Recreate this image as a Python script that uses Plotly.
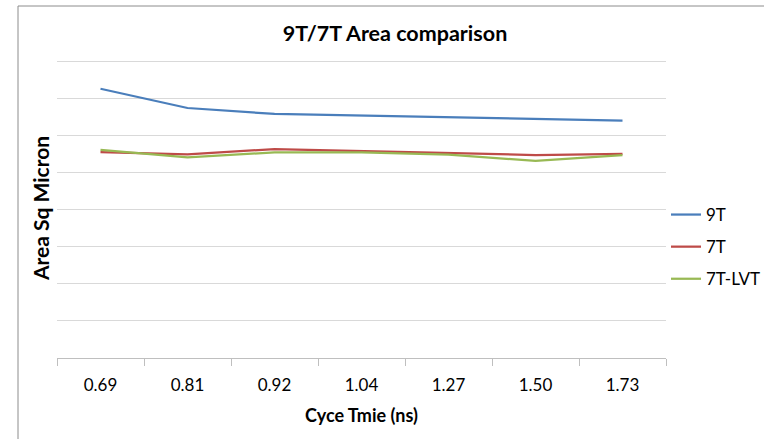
import plotly.graph_objects as go

categories = ["0.69", "0.81", "0.92", "1.04", "1.27", "1.50", "1.73"]
s_9t = [7.27, 6.75, 6.59, 6.55, 6.51, 6.46, 6.41]
s_7t = [5.56, 5.50, 5.64, 5.58, 5.52, 5.48, 5.51]
s_7tlvt = [5.62, 5.42, 5.55, 5.55, 5.49, 5.32, 5.48]

W, H = 764, 439
L, R, T, B = 57, 98, 58, 81
pw, ph = W - L - R, H - T - B

def px(x):
    return (x - L) / pw

def py(y):
    return (H - B - y) / ph

font = "Lato"
fig = go.Figure()
for name, vals, col, grp in [("9T", s_9t, "#4A7EBB", "a"), ("7T", s_7t, "#BE4B48", "b"), ("7T-LVT", s_7tlvt, "#98B954", "c")]:
    fig.add_trace(go.Scatter(x=categories, y=vals, mode="lines", name=name,
                             legendgroup=grp,
                             line=dict(color=col, width=2.25)))

fig.update_layout(
    width=W, height=H,
    margin=dict(l=L, r=R, t=T, b=B, autoexpand=False),
    paper_bgcolor="white", plot_bgcolor="white",
    font=dict(family=font, size=14, color="#000000"),
    title=dict(text="<b>9T/7T Area comparison</b>", x=395 / W, xref="container", xanchor="center",
               y=1 - 33 / H, yref="container", yanchor="middle",
               font=dict(family=font, size=21.5, color="#000000")),
    xaxis=dict(type="category", range=[-0.5, 6.5], tickson="boundaries", ticks="outside",
               ticklen=7, tickcolor="#BFBFBF", showline=True, linecolor="#BFBFBF", linewidth=1,
               showgrid=False, tickfont=dict(size=17), automargin=False, ticklabelstandoff=12,
               title=dict(text="<b>Cyce Tmie (ns)</b>", font=dict(size=18), standoff=14)),
    yaxis=dict(range=[0, 8.1], tickvals=[1, 2, 3, 4, 5, 6, 7, 8], showticklabels=False,
               showgrid=True, gridcolor="#D9D9D9", automargin=False,
               gridwidth=1, zeroline=False, ticks="",
               title=dict(text="<b>Area Sq Micron</b>", font=dict(size=21), standoff=0)),
    legend=dict(x=px(666), xanchor="left", y=py(197), yanchor="top",
                font=dict(size=17), tracegroupgap=7, bgcolor="rgba(0,0,0,0)"),
    showlegend=True,
)

fig.add_shape(type="line", xref="paper", yref="paper", x0=px(18), x1=px(770), y0=py(6), y1=py(6),
              line=dict(color="#8C8C8C", width=1))
fig.add_shape(type="line", xref="paper", yref="paper", x0=px(18), x1=px(18), y0=py(6), y1=py(445),
              line=dict(color="#8C8C8C", width=1))

fig.write_html("out.html")
